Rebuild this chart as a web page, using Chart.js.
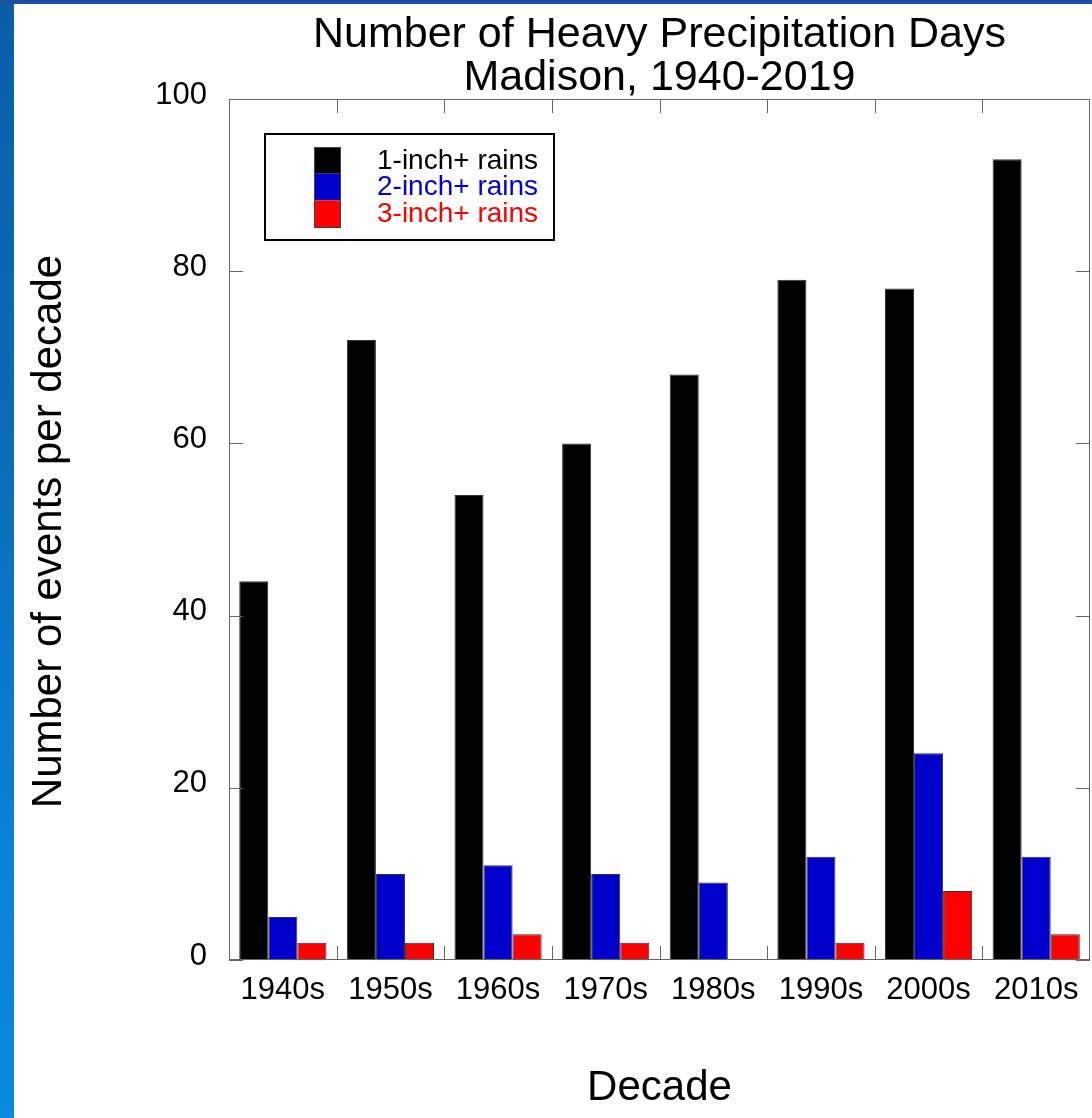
<!DOCTYPE html>
<html>
<head>
<meta charset="utf-8">
<script src="https://cdn.jsdelivr.net/npm/chart.js@4.4.0/dist/chart.umd.min.js"></script>
<style>
  html, body { margin: 0; padding: 0; background: #fff; }
  body { width: 1092px; height: 1118px; position: relative; overflow: hidden; }
  #leftStrip { position: absolute; left: 0; top: 0; width: 14px; height: 1118px;
    background: linear-gradient(to bottom, #0a5ea8 0%, #0b6cb8 40%, #0a82d6 75%, #0a8ae0 100%); }
  #topStrip { position: absolute; left: 0; top: 0; width: 1092px; height: 4px; background: #1d4fa2; }
  #wrap { position: absolute; left: 0; top: 0; width: 1092px; height: 1118px; }
</style>
</head>
<body>
<div id="leftStrip"></div>
<div id="topStrip"></div>
<div id="wrap"><canvas id="chart"></canvas></div>
<script>
  'use strict';

  var decades = ['1940s', '1950s', '1960s', '1970s', '1980s', '1990s', '2000s', '2010s'];
  var oneInch = [44, 72, 54, 60, 68, 79, 78, 93];
  var twoInch = [5, 10, 11, 10, 9, 12, 24, 12];
  var threeInch = [2, 2, 3, 2, 0, 2, 8, 3];
  var yTicks = [0, 20, 40, 60, 80, 100];

  var titleLines = ['Number of Heavy Precipitation Days', 'Madison, 1940-2019'];
  var yTitle = 'Number of events per decade';
  var xTitle = 'Decade';

  var FONT = '"Liberation Sans", Arial, Helvetica, sans-serif';

  // frame, inside ticks, titles and legend box
  var decorations = {
    id: 'decorations',
    afterDatasetsDraw: function (chart) {
      var ctx = chart.ctx;
      var a = chart.chartArea;
      var x = chart.scales.x, y = chart.scales.y;
      ctx.save();

      ctx.strokeStyle = '#666';
      ctx.lineWidth = 1;
      ctx.strokeRect(a.left + 0.5, a.top + 0.5, a.right - a.left - 1, a.bottom - a.top - 1);

      ctx.beginPath();
      yTicks.forEach(function (v) {
        var py = Math.round(y.getPixelForValue(v)) + 0.5;
        ctx.moveTo(a.left, py); ctx.lineTo(a.left + 14, py);
        ctx.moveTo(a.right, py); ctx.lineTo(a.right - 14, py);
      });
      for (var i = 1; i < decades.length; i++) {
        var px = Math.round((x.getPixelForValue(i - 1) + x.getPixelForValue(i)) / 2) + 0.5;
        ctx.moveTo(px, a.bottom); ctx.lineTo(px, a.bottom - 14);
        ctx.moveTo(px, a.top); ctx.lineTo(px, a.top + 14);
      }
      ctx.stroke();

      var cx = (a.left + a.right) / 2;
      ctx.fillStyle = '#000';
      ctx.textAlign = 'center';
      ctx.textBaseline = 'alphabetic';
      ctx.font = '43px ' + FONT;
      ctx.fillText(titleLines[0], cx, 47);
      ctx.fillText(titleLines[1], cx, 90);

      ctx.font = '42px ' + FONT;
      ctx.fillText(xTitle, cx, 1100);

      ctx.save();
      ctx.translate(61, (a.top + a.bottom) / 2 + 2);
      ctx.rotate(-Math.PI / 2);
      ctx.fillText(yTitle, 0, 0);
      ctx.restore();

      // legend
      ctx.lineWidth = 2;
      ctx.strokeStyle = '#000';
      ctx.strokeRect(265, 134, 289, 106);
      ctx.font = '28px ' + FONT;
      ctx.textAlign = 'left';
      ctx.textBaseline = 'middle';
      chart.data.datasets.forEach(function (ds, k) {
        var top = 147 + k * 26.7;
        ctx.fillStyle = ds.backgroundColor;
        ctx.fillRect(314, top, 27, 26.7);
        ctx.fillStyle = ds.legendText;
        ctx.fillText(ds.label, 377, top + 14);
      });
      ctx.lineWidth = 1;
      ctx.strokeStyle = '#444';
      ctx.strokeRect(314.5, 147.5, 26, 80);
      ctx.restore();
    }
  };

  new Chart(document.getElementById('chart'), {
    type: 'bar',
    data: {
      labels: decades,
      datasets: [
        { label: '1-inch+ rains', data: oneInch, backgroundColor: '#000000', legendText: '#000000' },
        { label: '2-inch+ rains', data: twoInch, backgroundColor: '#0000cc', legendText: '#0000dd' },
        { label: '3-inch+ rains', data: threeInch, backgroundColor: '#ff0000', legendText: '#ff0000' }
      ]
    },
    options: {
      responsive: true,
      maintainAspectRatio: false,
      animation: false,
      layout: { padding: { top: 99, right: 2, left: 0, bottom: 0 } },
      datasets: {
        bar: {
          barPercentage: 1,
          categoryPercentage: 0.81,
          borderWidth: 1,
          borderColor: '#333'
        }
      },
      plugins: {
        legend: { display: false },
        title: { display: false },
        tooltip: { enabled: false }
      },
      scales: {
        x: {
          grid: { display: false, drawTicks: false },
          border: { display: false },
          ticks: { color: '#000', font: { family: FONT, size: 31 }, padding: 12, maxRotation: 0 },
          afterFit: function (s) { s.height = 158; }
        },
        y: {
          min: 0,
          max: 100,
          grid: { display: false, drawTicks: false },
          border: { display: false },
          ticks: { stepSize: 20, color: '#000', font: { family: FONT, size: 31 }, padding: 22, labelOffset: -4 },
          afterFit: function (s) { s.width = 229; }
        }
      }
    },
    plugins: [decorations]
  });
</script>
</body>
</html>
